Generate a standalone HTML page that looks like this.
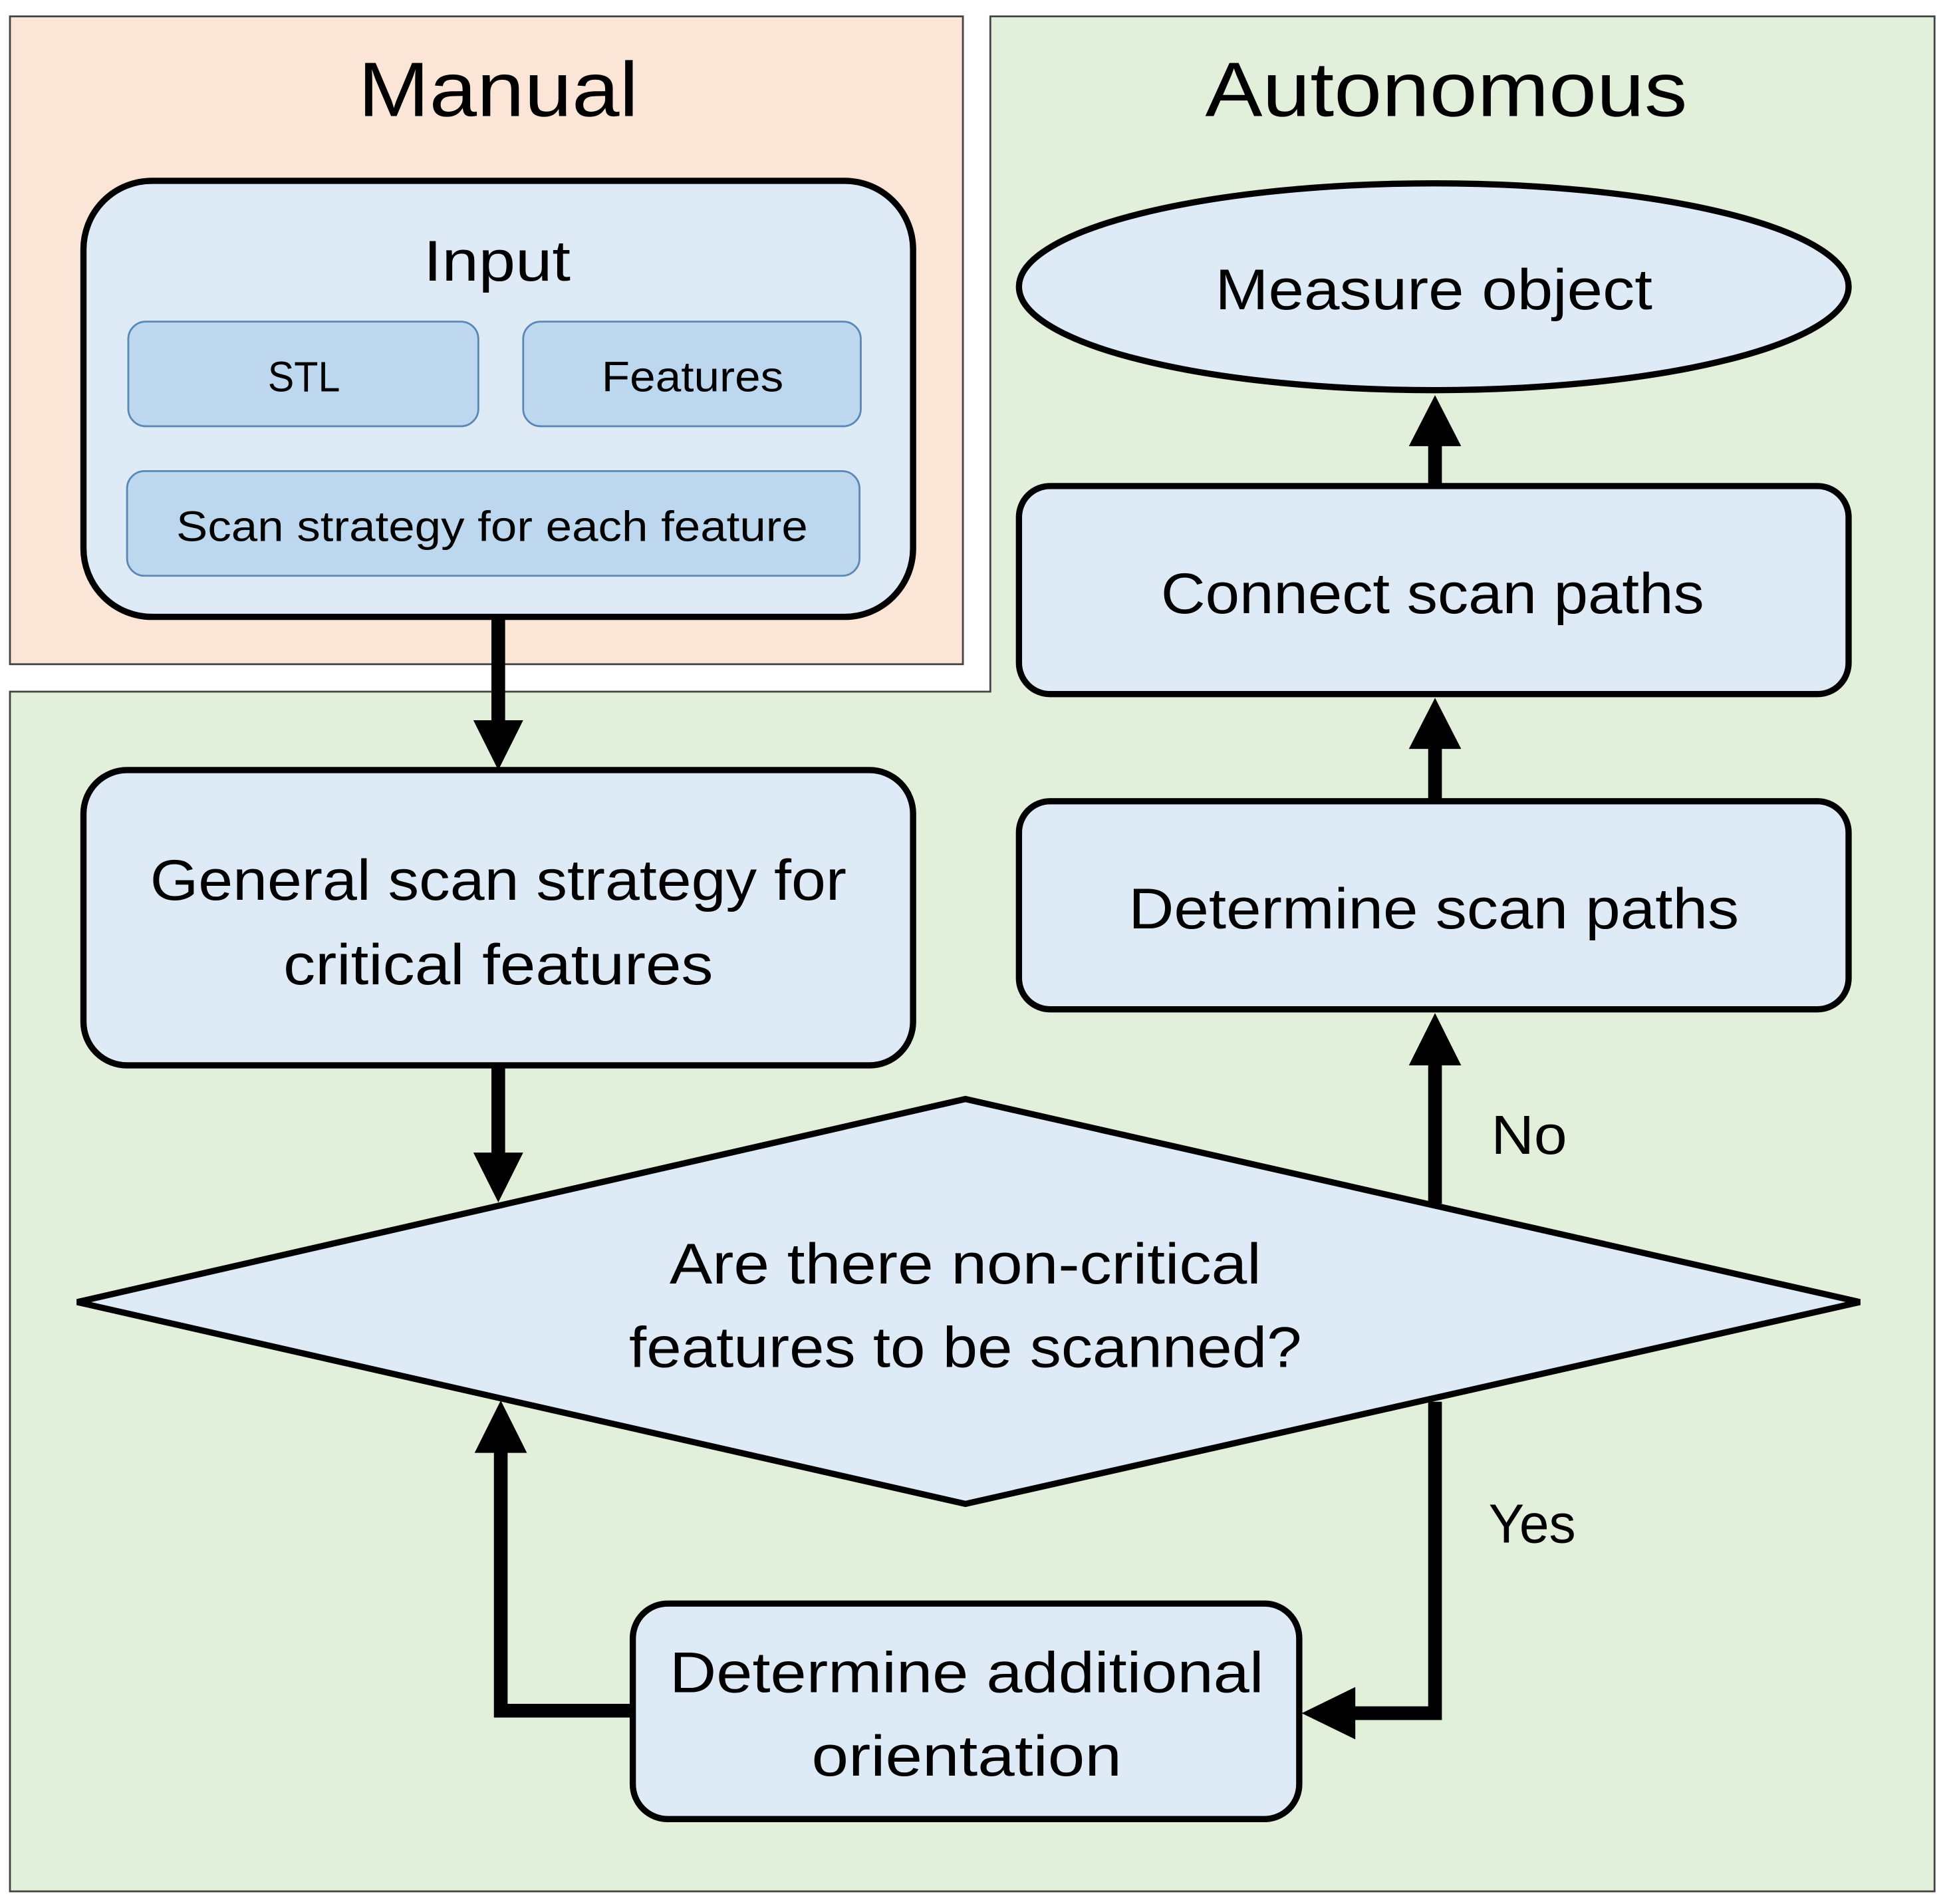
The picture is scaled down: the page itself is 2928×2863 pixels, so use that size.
<!DOCTYPE html>
<html><head><meta charset="utf-8"><style>html,body{margin:0;padding:0;background:#fff}svg{display:block}text{font-family:"Liberation Sans",sans-serif;fill:#000}</style></head><body>
<svg width="2928" height="2863" viewBox="0 0 1563 1528" xmlns="http://www.w3.org/2000/svg">
<rect width="1563" height="1528" fill="#fff"/>
<rect x="8" y="13" width="765" height="520" fill="#fbe5d6" stroke="#444" stroke-width="1.5"/>
<polygon points="795,13 1553,13 1553,1518 8,1518 8,555 795,555" fill="#e2efda" stroke="#444" stroke-width="1.5"/>
<text x="400" y="93" font-size="62" text-anchor="middle" textLength="225" lengthAdjust="spacingAndGlyphs">Manual</text>
<text x="1161" y="93" font-size="62" text-anchor="middle" textLength="387" lengthAdjust="spacingAndGlyphs">Autonomous</text>
<g stroke="#000" stroke-width="5" fill="#deebf7">
<rect x="67" y="145" width="666" height="350" rx="55"/>
<rect x="67" y="618" width="666" height="237" rx="35"/>
<polygon points="62,1045 775,882 1493,1045 775,1207"/>
<ellipse cx="1151" cy="230" rx="333" ry="83"/>
<rect x="818" y="390" width="666" height="167" rx="25"/>
<rect x="818" y="643" width="666" height="167" rx="25"/>
<rect x="508" y="1287" width="535" height="173" rx="28"/>
</g>
<g fill="#bdd7ee" stroke="#5b87b5" stroke-width="1.5">
<rect x="103" y="258" width="281" height="84" rx="14"/>
<rect x="420" y="258" width="271" height="84" rx="14"/>
<rect x="102" y="378" width="588" height="84" rx="14"/>
</g>
<text x="399" y="225" font-size="46" text-anchor="middle" textLength="118" lengthAdjust="spacingAndGlyphs">Input</text>
<text x="244" y="314" font-size="34" text-anchor="middle" textLength="58" lengthAdjust="spacingAndGlyphs">STL</text>
<text x="556" y="314" font-size="34" text-anchor="middle" textLength="146" lengthAdjust="spacingAndGlyphs">Features</text>
<text x="395" y="434" font-size="34" text-anchor="middle" textLength="507" lengthAdjust="spacingAndGlyphs">Scan strategy for each feature</text>
<text x="400" y="722" font-size="46" text-anchor="middle" textLength="559" lengthAdjust="spacingAndGlyphs">General scan strategy for</text>
<text x="400" y="790" font-size="46" text-anchor="middle" textLength="345" lengthAdjust="spacingAndGlyphs">critical features</text>
<text x="775" y="1030" font-size="46" text-anchor="middle" textLength="475" lengthAdjust="spacingAndGlyphs">Are there non-critical</text>
<text x="775" y="1097" font-size="46" text-anchor="middle" textLength="540" lengthAdjust="spacingAndGlyphs">features to be scanned?</text>
<text x="1151" y="248" font-size="46" text-anchor="middle" textLength="351" lengthAdjust="spacingAndGlyphs">Measure object</text>
<text x="1150" y="492" font-size="46" text-anchor="middle" textLength="436" lengthAdjust="spacingAndGlyphs">Connect scan paths</text>
<text x="1151" y="745" font-size="46" text-anchor="middle" textLength="490" lengthAdjust="spacingAndGlyphs">Determine scan paths</text>
<text x="1197" y="926" font-size="44" textLength="61" lengthAdjust="spacingAndGlyphs">No</text>
<text x="1195" y="1238" font-size="44" textLength="70" lengthAdjust="spacingAndGlyphs">Yes</text>
<text x="776" y="1358" font-size="46" text-anchor="middle" textLength="477" lengthAdjust="spacingAndGlyphs">Determine additional</text>
<text x="776" y="1425" font-size="46" text-anchor="middle" textLength="249" lengthAdjust="spacingAndGlyphs">orientation</text>
<g stroke="#000" stroke-width="11" fill="none">
<line x1="400" y1="497" x2="400" y2="580"/>
<line x1="400" y1="857" x2="400" y2="927"/>
<line x1="1152" y1="388" x2="1152" y2="355"/>
<line x1="1152" y1="641" x2="1152" y2="598"/>
<line x1="1152" y1="966" x2="1152" y2="850"/>
<polyline points="1152,1125 1152,1375 1085,1375"/>
<polyline points="506,1373 402,1373 402,1160"/>
</g>
<g fill="#000">
<polygon points="380,578 420,578 400,618"/>
<polygon points="380,925 420,925 400,965"/>
<polygon points="1131,358 1173,358 1152,317"/>
<polygon points="1131,601 1173,601 1152,560"/>
<polygon points="1131,855 1173,855 1152,813"/>
<polygon points="1088,1354 1088,1396 1045,1375"/>
<polygon points="381,1166 423,1166 402,1124"/>
</g>
</svg>
</body></html>
